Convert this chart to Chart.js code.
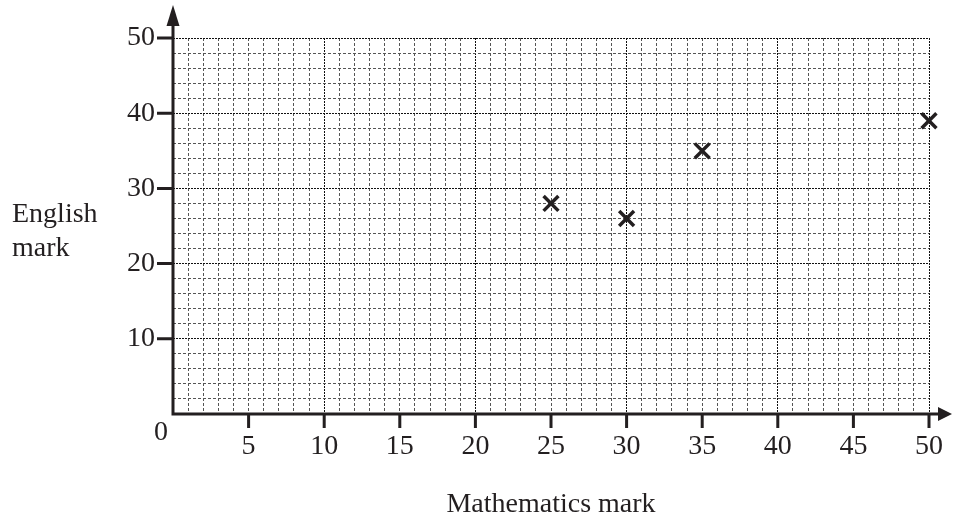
<!DOCTYPE html>
<html>
<head>
<meta charset="utf-8">
<script src="https://cdn.jsdelivr.net/npm/chart.js@4"></script>
<style>
  body { margin: 0; background: #fff; }
  #wrap { width: 953px; height: 518px; }
</style>
</head>
<body>
<div id="wrap"><canvas id="myChart"></canvas></div>
<script>
const mathsMarks = [25, 30, 35, 50];
const englishMarks = [28, 26, 35, 39];
const xLabelTicks = [5, 10, 15, 20, 25, 30, 35, 40, 45, 50];
const yLabelTicks = [10, 20, 30, 40, 50];
const xTitle = "Mathematics mark";
const yTitle = ["English", "mark"];

const ink = "#231f20";
const serif = '"Liberation Serif", "Times New Roman", serif';

const axesPlugin = {
    id: 'axesPlugin',
    afterDatasetsDraw(chart) {
        const ctx = chart.ctx;
        const area = chart.chartArea;
        const xs = chart.scales.x;
        const ys = chart.scales.y;
        ctx.save();
        ctx.strokeStyle = ink;
        ctx.fillStyle = ink;
        ctx.lineWidth = 3;
        ctx.lineCap = 'butt';

        // axis lines
        ctx.beginPath();
        ctx.moveTo(area.left, area.bottom);
        ctx.lineTo(area.right + 12, area.bottom);
        ctx.moveTo(area.left, area.bottom + 1.5);
        ctx.lineTo(area.left, area.top - 12);
        ctx.stroke();

        // arrows
        ctx.beginPath();
        ctx.moveTo(area.right + 23, area.bottom);
        ctx.lineTo(area.right + 9, area.bottom - 7);
        ctx.lineTo(area.right + 9, area.bottom + 7);
        ctx.closePath();
        ctx.fill();
        ctx.beginPath();
        ctx.moveTo(area.left, area.top - 33);
        ctx.lineTo(area.left - 6.5, area.top - 12);
        ctx.lineTo(area.left + 6.5, area.top - 12);
        ctx.closePath();
        ctx.fill();

        // tick marks
        ctx.beginPath();
        xLabelTicks.forEach(v => {
            const px = xs.getPixelForValue(v);
            ctx.moveTo(px, area.bottom);
            ctx.lineTo(px, area.bottom + 14);
        });
        yLabelTicks.forEach(v => {
            const py = ys.getPixelForValue(v);
            ctx.moveTo(area.left, py);
            ctx.lineTo(area.left - 16, py);
        });
        ctx.stroke();

        // texts
        ctx.font = '28px ' + serif;
        ctx.textAlign = 'center';
        ctx.textBaseline = 'middle';
        ctx.fillText('0', area.left - 12, area.bottom + 19);

        ctx.textBaseline = 'alphabetic';
        ctx.fillText(xTitle, (area.left + area.right) / 2, 512);

        ctx.textAlign = 'left';
        ctx.fillText(yTitle[0], 12, 222);
        ctx.fillText(yTitle[1], 12, 256);
        ctx.restore();
    }
};

const graph = document.getElementById('myChart').getContext('2d');

let myChart = new Chart(graph, {
    type: 'scatter',
    data: {
        datasets: [{
            label: 'Marks',
            data: mathsMarks.map((m, i) => ({ x: m, y: englishMarks[i] })),
            pointStyle: 'crossRot',
            pointRadius: 10.5,
            pointHoverRadius: 10.5,
            borderColor: ink,
            backgroundColor: ink,
            pointBorderWidth: 3.5,
            pointHoverBorderWidth: 3.5,
            clip: false
        }]
    },
    options: {
        responsive: true,
        maintainAspectRatio: false,
        animation: false,
        devicePixelRatio: 1,
        events: [],
        layout: { padding: { top: 38, right: 24, left: 0, bottom: 0 } },
        plugins: {
            legend: { display: false },
            tooltip: { enabled: false }
        },
        scales: {
            x: {
                type: 'linear',
                min: 0,
                max: 50,
                afterFit: s => { s.height = 104; s.paddingLeft = 0; s.paddingRight = 0; },
                ticks: {
                    stepSize: 1,
                    autoSkip: false,
                    maxRotation: 0,
                    padding: 16,
                    color: ink,
                    font: { family: serif, size: 28 },
                    callback: v => xLabelTicks.includes(v) ? String(v) : ''
                },
                grid: {
                    drawTicks: false,
                    lineWidth: 1,
                    color: c => (c.tick && c.tick.value % 10 === 0) ? '#111111' : '#555555',
                    borderDash: [3, 2]
                },
                border: { display: false, dash: c => (c.tick && c.tick.value % 10 === 0) ? [2, 1] : [3, 2] }
            },
            y: {
                type: 'linear',
                min: 0,
                max: 50,
                afterFit: s => { s.width = 173; s.paddingTop = 0; s.paddingBottom = 0; },
                ticks: {
                    stepSize: 2,
                    autoSkip: false,
                    padding: 18,
                    color: ink,
                    font: { family: serif, size: 28 },
                    callback: v => yLabelTicks.includes(v) ? String(v) : ''
                },
                grid: {
                    drawTicks: false,
                    lineWidth: 1,
                    color: c => (c.tick && c.tick.value % 10 === 0) ? '#111111' : '#555555',
                    borderDash: [3, 2]
                },
                border: { display: false, dash: c => (c.tick && c.tick.value % 10 === 0) ? [2, 1] : [3, 2] }
            }
        }
    },
    plugins: [axesPlugin]
});
</script>
</body>
</html>
